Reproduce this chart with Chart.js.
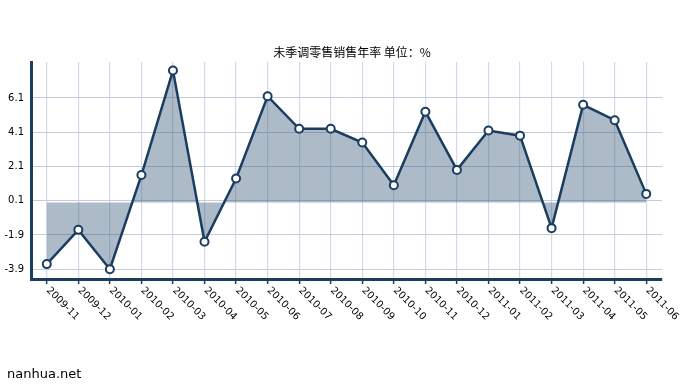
<!DOCTYPE html>
<html>
<head>
<meta charset="utf-8">
<script src="https://cdn.jsdelivr.net/npm/chart.js@4"></script>
<style>
  html, body { margin: 0; padding: 0; background: #fff; }
  #wrap { position: relative; width: 691px; height: 384px; }
  #mark { position: absolute; left: 7px; top: 366px; font: 13px "DejaVu Sans", sans-serif; color: #000; }
</style>
</head>
<body>
<div id="wrap">
  <canvas id="myChart" width="691" height="384"></canvas>
  <div id="mark">nanhua.net</div>
</div>
<script>
// 未季调零售销售年率, monthly
let months = ['2009-11', '2009-12', '2010-01', '2010-02', '2010-03', '2010-04', '2010-05',
  '2010-06', '2010-07', '2010-08', '2010-09', '2010-10', '2010-11', '2010-12',
  '2011-01', '2011-02', '2011-03', '2011-04', '2011-05', '2011-06'];
let retailYoY = [-3.6, -1.6, -3.9, 1.6, 7.7, -2.3, 1.4, 6.2, 4.3, 4.3,
  3.5, 1.0, 5.3, 1.9, 4.2, 3.9, -1.5, 5.7, 4.8, 0.5];
let yTicks = [-3.9, -1.9, 0.1, 2.1, 4.1, 6.1];
let chartTitle = '未季调零售销售年率 单位：%';

const navy = '#1b3d60';

// title + rotated month labels (text runs down-right from each tick)
const extraText = {
  id: 'extraText',
  afterDraw(chart) {
    const ctx = chart.ctx;
    const x = chart.scales.x;
    ctx.save();
    ctx.fillStyle = '#000';
    ctx.font = '12px "Noto Sans CJK SC"';
    ctx.textAlign = 'center';
    ctx.textBaseline = 'middle';
    ctx.fillText(chartTitle, 352, 52);

    ctx.font = '10px "DejaVu Sans"';
    ctx.textAlign = 'left';
    months.forEach(function (m, i) {
      let px = x.getPixelForValue(i);
      ctx.save();
      ctx.translate(px + 1, 289);
      ctx.rotate(Math.PI / 4);
      ctx.fillText(m, 0, 0);
      ctx.restore();
    });
    ctx.restore();
  }
};

var ctx = document.getElementById('myChart').getContext('2d');
var myChart = new Chart(ctx, {
  type: 'line',
  data: {
    labels: months,
    datasets: [{
      data: retailYoY,
      borderColor: navy,
      borderWidth: 2.5,
      backgroundColor: 'rgba(40, 75, 110, 0.38)',
      fill: 'origin',
      tension: 0,
      pointRadius: 4,
      pointBorderWidth: 2,
      pointBackgroundColor: '#fff',
      pointBorderColor: navy
    }]
  },
  options: {
    responsive: false,
    animation: false,
    layout: { padding: { left: 0, right: 29, top: 62, bottom: 0 } },
    plugins: {
      legend: { display: false },
      tooltip: { enabled: false },
      title: { display: false }
    },
    scales: {
      x: {
        offset: true,
        grid: { color: '#d4daec', lineWidth: 1.2, offset: false, tickLength: 5, tickColor: navy, tickWidth: 1.5 },
        border: { color: navy, width: 3 },
        ticks: { display: false },
        afterFit: function (s) { s.height = 105; }
      },
      y: {
        min: -4.47,
        max: 8.2,
        grid: { color: '#c3cbdd', drawTicks: false },
        border: { color: navy, width: 3 },
        afterBuildTicks: function (s) { s.ticks = yTicks.map(v => ({ value: v })); },
        ticks: {
          color: '#000',
          padding: 7,
          font: { family: '"DejaVu Sans"', size: 10 },
          callback: v => v.toFixed(1)
        },
        afterFit: function (s) { s.width = 31; }
      }
    }
  },
  plugins: [extraText]
});
</script>
</body>
</html>
